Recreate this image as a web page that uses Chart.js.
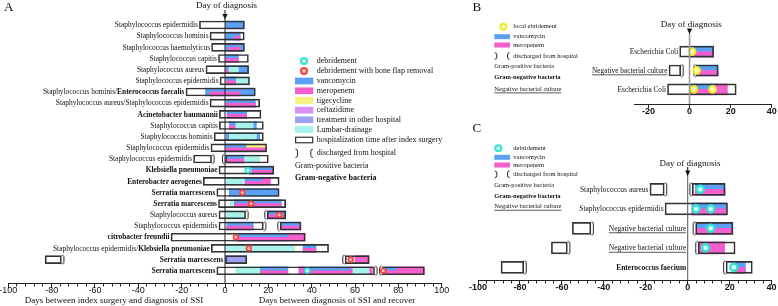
<!DOCTYPE html>
<html>
<head>
<meta charset="utf-8">
<script src="https://cdn.jsdelivr.net/npm/chart.js@4.4.1/dist/chart.umd.min.js"></script>
<style>
  html, body { margin:0; padding:0; background:#ffffff; }
  #wrap { position:relative; width:778px; height:306px; overflow:hidden; background:#ffffff; }
  #wrap canvas { position:absolute; left:0; top:0; }
</style>
</head>
<body>
<div id="wrap">
  <canvas id="chartA" width="778" height="306"></canvas>
  <canvas id="chartB" width="778" height="306"></canvas>
  <canvas id="chartC" width="778" height="306"></canvas>
</div>
<script>
// ================= DATA: panel A =================
const organismsA = [
  'Staphylococcus epidermidis', 'Staphylococcus hominis', 'Staphylococcus haemolyticus',
  'Staphylococcus capitis', 'Staphylococcus aureus', 'Staphylococcus epidermidis',
  'Staphylococcus hominis/Enterococcus faecalis', 'Staphylococcus aureus/Staphylococcus epidermidis',
  'Acinetobacter baumannii', 'Staphylococcus capitis', 'Staphylococcus hominis',
  'Staphylococcus epidermidis', 'Staphylococcus epidermidis', 'Klebsiella pneumoniae',
  'Enterobacter aerogenes', 'Serratia marcescens', 'Serratia marcescens', 'Staphylococcus aureus',
  'Staphylococcus epidermidis', 'citrobacter freundii',
  'Staphylococcus epidermidis/Klebsiella pneumoniae', 'Serratia marcescens', 'Serratia marcescens'
];
const gramA = ['+','+','+','+','+','+','+/-','+','-','+','+','+','+','-','-','-','-','+','+','-','+/-','-','-'];
const stayA = [
  [[-11.8, 8.9]], [[-6.9, 8.9]], [[-6.2, 9]], [[-3, 10.8]], [[-8.8, 10.9]], [[-2.3, 11.3]],
  [[-18, 14]], [[-6.9, 16]], [[-2.6, 16.6]], [[-2.6, 17.7]], [[-5, 17.7]], [[-6.5, 19.2]],
  [[-14.5, -6.2], [0, 20]], [[-2.8, 22.5]], [[-10, 25]], [[-3.8, 25]], [[-3, 28]],
  [[-2.8, 9.5], [19.5, 28]], [[-2.8, 17.7], [25.5, 35]], [[-24.9, 37]], [[-6.3, 47.8]],
  [[-83, -75.5], [0, 10], [55.5, 66.5]], [[-3.8, 69], [72.5, 92]]
];
const vancomycinA = [
  [[0, 8.9]], [[0.3, 7]], [[0.3, 8.5]], [[0.3, 6.2]], [[0.3, 10.6]], [[0.5, 5.2]],
  [[-9, 13.5]], [[0.5, 14]], [[1, 10]], [[2, 14.5]], [[0.5, 16]], [[0.3, 10]],
  [[0.5, 9]], [[11.5, 22.3]], [[9, 17.5]], [[2, 24.5]], [[4, 26]], [[20, 28]],
  [[0.8, 13], [26, 35]], [[5, 29]], [[36, 42]], [], [[16, 29], [36, 58], [73, 79.5]]
];
const meropenemA = [
  [], [[4.3, 7]], [[1.8, 7]], [[0.3, 6.2]], [[0.3, 1.8]], [[0.5, 5.2]],
  [[-7, 7]], [[0.5, 14]], [[1, 10]], [[2, 5]], [], [[0.3, 19]],
  [[0.5, 9]], [[11.5, 22.3]], [[9, 21]], [], [[4, 26]], [[20, 28]],
  [[0.8, 13], [26, 35]], [[5, 37]], [[36, 42]], [[60, 66.5]], [[16, 29], [34, 68], [73, 92]]
];
const tigecyclineA = [[],[],[],[],[],[],[],[],[],[],[],[[10, 19]],[],[],[],[],[],[],[],[],[],[],[]];
const ceftazidimeA = [[],[],[],[],[],[],[],[],[],[],[],[],[],[],[],[],[],[],[],[],[],[],[]];
const otherHospitalA = [[],[],[],[],[],[],[],[],[],[],[],[],[],[],[],[],[],[],[],[],[],[[0, 10]],[]];
const lumbarDrainageA = [
  [], [], [], [], [[1.8, 6.2]], [[5.2, 11.3]], [], [], [], [[5, 13]], [[2, 14.5]], [],
  [[9, 16]], [[9.5, 12]], [[0.5, 9]], [], [[2.5, 4]], [[0.5, 8.5]], [], [], [[0, 32.3]], [],
  [[5, 16], [59, 66.5]]
];
const debridementA = [[],[],[],[],[],[],[],[],[],[],[],[],[],[10.5],[],[],[],[],[],[],[],[],[38]];
const boneFlapRemovalA = [[],[],[],[],[],[],[],[],[],[],[],[],[],[],[],[8],[12],[25],[],[5],[11],[58],[73]];
const dischargedA = [[],[],[],[],[],[],[],[],[],[],[],[],[-6.2],[],[],[],[],[9.5],[17.7],[],[],[-75.5],[69]];
const readmittedA = [[],[],[],[],[],[],[],[],[],[],[],[],[0],[],[],[],[],[19.5],[25.5],[],[],[55.5],[72.5]];
const tickLabelsA = [-100, -80, -60, -40, -20, 0, 20, 40, 60, 80, 100];

// ================= DATA: panel B =================
const organismsB = ['Escherichia Coli', 'Negative bacterial culture', 'Escherichia Coli'];
const gramB = ['-', 'n', '-'];
const stayB = [[[-4.8, 11.7]], [[-10, -4.3], [3.3, 13.9]], [[-10.7, 22.7]]];
const vancomycinB = [[[0, 11.7]], [[3.5, 13.9]], [[0, 13]]];
const meropenemB = [[[0, 11.7]], [[3.5, 13.9]], [[0, 18.4]]];
const localDebridementB = [[1.2], [3.5], [2.1, 11.2]];
const dischargedB = [[], [-4.3], []];
const readmittedB = [[], [3.3], []];
const tickLabelsB = [-20, 0, 20, 40];

// ================= DATA: panel C =================
const organismsC = ['Staphylococcus aureus', 'Staphylococcus epidermidis', 'Negative bacterial culture',
                    'Negative bacterial culture', 'Enterococcus faecium'];
const gramC = ['+', '+', 'n', 'n', '-'];
const stayC = [[[-18, -11.2], [2.2, 17.8]], [[-10.8, 19]], [[-55, -46.2], [3.8, 21.5]],
               [[-65, -57.4], [5, 22.6]], [[-89, -78.2], [18.3, 30.8]]];
const vancomycinC = [[[3.6, 17.8]], [[2, 18.4]], [[4, 21.5]], [], [[21.3, 27.5]]];
const meropenemC = [[[3.6, 17.8]], [[2, 18.4]], [[4, 21.5]], [[5.2, 17.6]], [[21.3, 27.5]]];
const debridementC = [[6], [4, 11], [11], [8.5], [22]];
const dischargedC = [[-11.2], [], [-46.2], [-57.4], [-78.2]];
const readmittedC = [[2.2], [], [3.8], [5], [18.3]];
const tickLabelsC = [-100, -80, -60, -40, -20, 0, 20, 40];

// ================= STYLE =================
const SERIF = '"Liberation Serif", "Times New Roman", serif';
const SANS = '"Liberation Sans", Arial, sans-serif';
const COLORS = {
  vancomycin: '#5ba0f4', meropenem: '#f45fcd', tigecycline: '#f6f27e', ceftazidime: '#d78ff4',
  otherHospital: '#9c9ff2', lumbar: '#a7f2ea',
  debr: '#33e2d2', debrFill: '#d2faf4', flap: '#f2443c', flapFill: '#f9b6b2',
  local: '#f1ec2a', localFill: '#fbf8c6', box: '#333333'
};

// ================= HELPERS =================
function toBars(perRow) {
  const out = [];
  perRow.forEach((ivs, r) => (ivs || []).forEach(iv => out.push({ x: [iv[0], iv[1]], y: r })));
  return out;
}
function toMarks(perRow) {
  const out = [];
  perRow.forEach((vs, r) => (vs || []).forEach(v => out.push({ x: v, y: r })));
  return out;
}
function splitByCover(list, coverLists) {
  const cover = [].concat(...coverLists);
  const overlap = [], alone = [];
  (list || []).forEach(([a, b]) => {
    const pts = [a, b];
    cover.forEach(([c, d]) => { if (c > a && c < b) pts.push(c); if (d > a && d < b) pts.push(d); });
    pts.sort((p, q) => p - q);
    for (let i = 0; i < pts.length - 1; i++) {
      const s = pts[i], e = pts[i + 1];
      if (e - s <= 1e-9) continue;
      const mid = (s + e) / 2;
      const target = cover.some(([c, d]) => mid > c && mid < d) ? overlap : alone;
      const last = target[target.length - 1];
      if (last && Math.abs(last[1] - s) < 1e-9) last[1] = e; else target.push([s, e]);
    }
  });
  return { overlap, alone };
}
function drawBracket(ctx, x, yc, h, dir, color, lw) {
  const t = yc - h / 2, b = yc + h / 2, hk = 2 * dir;
  ctx.save();
  ctx.strokeStyle = color; ctx.lineWidth = lw;
  ctx.beginPath();
  ctx.moveTo(x - hk, t); ctx.quadraticCurveTo(x, t, x, t + 2);
  ctx.lineTo(x, b - 2); ctx.quadraticCurveTo(x, b, x - hk, b);
  ctx.stroke();
  ctx.restore();
}
function bracketImage(h, dir) {
  const c = document.createElement('canvas');
  c.width = 10; c.height = Math.ceil(h + 2);
  drawBracket(c.getContext('2d'), 5 + 2.5 * dir, c.height / 2, h, dir, '#2a2a2a', 1);
  return c;
}
function ring(ctx, x, y, r, w, color, fill) {
  ctx.save();
  ctx.beginPath(); ctx.arc(x, y, r, 0, Math.PI * 2);
  ctx.fillStyle = fill; ctx.fill();
  ctx.lineWidth = w; ctx.strokeStyle = color; ctx.stroke();
  ctx.restore();
}
function text(ctx, s, x, y, font, align, underline) {
  ctx.save();
  ctx.font = font; ctx.fillStyle = '#111'; ctx.textAlign = align || 'left'; ctx.textBaseline = 'middle';
  ctx.fillText(s, x, y);
  if (underline) {
    const w = ctx.measureText(s).width;
    const x0 = align === 'right' ? x - w : (align === 'center' ? x - w / 2 : x);
    const size = parseFloat(font.match(/([\d.]+)px/)[1]);
    ctx.strokeStyle = '#111'; ctx.lineWidth = 0.7;
    ctx.beginPath(); ctx.moveTo(x0, y + size * 0.55); ctx.lineTo(x0 + w, y + size * 0.55); ctx.stroke();
  }
  ctx.restore();
}
function drawLegend(ctx, L) {
  L.items.forEach(it => {
    const y = it.y;
    if (it.k === 'ring') ring(ctx, L.ringX, y, L.ringR, L.ringW, COLORS[it.c], COLORS[it.c + 'Fill']);
    else if (it.k === 'rect') { ctx.fillStyle = COLORS[it.c]; ctx.fillRect(L.x, y - L.h / 2, L.w, L.h); }
    else if (it.k === 'box') {
      ctx.fillStyle = '#fff'; ctx.fillRect(L.x, y - L.h / 2, L.w, L.h);
      ctx.strokeStyle = '#333'; ctx.lineWidth = 1.2; ctx.strokeRect(L.x + 0.6, y - L.h / 2 + 0.6, L.w - 1.2, L.h - 1.2);
    } else if (it.k === 'brk') {
      drawBracket(ctx, L.x + 2.5, y, L.h + 1.5, 1, '#222', 1);
      drawBracket(ctx, L.x + L.w - 2.5, y, L.h + 1.5, -1, '#222', 1);
    }
    const plainText = (it.k === 'g+' || it.k === 'g-' || it.k === 'neg');
    const font = (it.k === 'g-' ? 'bold ' : '') + L.font + 'px ' + SERIF;
    text(ctx, it.t, plainText ? L.x : L.tx, y, font, 'left', it.k === 'neg');
  });
}
function drawDiag(ctx, chart, D) {
  const x0 = chart.scales.x.getPixelForValue(0);
  const bottom = chart.chartArea.bottom;
  ctx.save();
  ctx.strokeStyle = D.lineColor; ctx.lineWidth = D.lineWidth;
  ctx.beginPath(); ctx.moveTo(x0, D.lineTop); ctx.lineTo(x0, bottom); ctx.stroke();
  ctx.strokeStyle = '#111'; ctx.lineWidth = 1;
  ctx.beginPath(); ctx.moveTo(x0, D.arrowTop); ctx.lineTo(x0, D.tip - 3); ctx.stroke();
  ctx.fillStyle = '#111';
  ctx.beginPath(); ctx.moveTo(x0 - 2.6, D.tip - 5.5); ctx.lineTo(x0 + 2.6, D.tip - 5.5); ctx.lineTo(x0, D.tip); ctx.closePath(); ctx.fill();
  ctx.restore();
  text(ctx, 'Day of diagnosis', x0 + D.dx, D.textY, D.font + 'px ' + SERIF, 'center');
}
function drawRowLabels(ctx, chart, P) {
  const xs = chart.scales.x, ys = chart.scales.y;
  P.labels.forEach((name, r) => {
    const starts = (P.stay[r] || []).map(iv => iv[0]).filter(v => v >= -30);
    const anchor = Math.min(0, ...starts);
    let x = xs.getPixelForValue(anchor) - P.labelGap;
    const y = ys.getPixelForValue(r) + 0.3;
    const kind = P.gram[r];
    let parts;
    if (kind === '+/-') {
      const k = name.indexOf('/') + 1;
      parts = [[name.slice(0, k), '+'], [name.slice(k), '-']];
    } else parts = [[name, kind]];
    for (let i = parts.length - 1; i >= 0; i--) {
      const [s, k] = parts[i];
      const bold = (k === '-' && P.boldNegative) || (k === 'n' && P.boldNeg2);
      const font = (bold ? 'bold ' : '') + P.labelSize + 'px ' + SERIF;
      text(ctx, s, x, y, font, 'right', k === 'n');
      ctx.save(); ctx.font = font; x -= ctx.measureText(s).width; ctx.restore();
    }
  });
}

// ================= PANEL BUILDER =================
function makePanel(canvasId, P) {
  const g = P.geom;
  const rowPx = (g.bottom - g.top) / (g.ymax - g.ymin);
  const shift = (g.bar / 4) / rowPx;
  const bar = (o) => Object.assign({ type: 'bar', grouped: false, barThickness: g.bar, borderWidth: 0,
    borderSkipped: false, xAxisID: 'x', yAxisID: 'y', clip: false }, o);
  const ds = [];
  ds.push(bar({ label: 'hospitalization', data: toBars(P.stay), backgroundColor: '#ffffff', order: 40 }));
  P.drugs.forEach((d, i) => ds.push(bar({ label: d.label, data: toBars(d.values), backgroundColor: d.color, order: 30 - i })));
  const alone = [], combined = [];
  P.meropenem.forEach((ivs, r) => {
    const s = splitByCover(ivs, P.drugs.map(d => d.values[r] || []));
    alone.push(s.alone); combined.push(s.overlap);
  });
  ds.push(bar({ label: 'meropenem', data: toBars(alone), backgroundColor: COLORS.meropenem, order: 20 }));
  ds.push(bar({ label: 'meropenem (with other drug)', data: toBars(combined), backgroundColor: COLORS.meropenem,
    barThickness: g.bar / 2, yAxisID: 'yb', order: 19 }));
  if (P.lumbar) ds.push(bar({ label: 'Lumbar-drainage', data: toBars(P.lumbar), backgroundColor: COLORS.lumbar, order: 15 }));
  if (P.other) ds.push(bar({ label: 'treatment in other hospital', data: toBars(P.other), backgroundColor: COLORS.otherHospital, order: 14 }));
  ds.push(bar({ label: 'hospitalization outline', data: toBars(P.stay), backgroundColor: 'rgba(0,0,0,0)',
    borderColor: COLORS.box, borderWidth: 1, order: 10 }));
  const pt = (o) => Object.assign({ type: 'line', showLine: false, xAxisID: 'x', yAxisID: 'y', clip: false,
    pointRadius: 3, order: 5 }, o);
  ds.push(pt({ label: 'discharged', data: toMarks(P.discharged), pointStyle: bracketImage(g.bar + 1, 1) }));
  ds.push(pt({ label: 'readmitted', data: toMarks(P.readmitted), pointStyle: bracketImage(g.bar + 1, -1) }));
  P.marks.forEach((m, i) => ds.push(pt({ label: m.label, data: toMarks(m.values), pointStyle: 'circle',
    pointRadius: m.r, pointBorderWidth: m.w, pointBorderColor: COLORS[m.c], pointBackgroundColor: COLORS[m.c + 'Fill'], order: 1 + i })));

  const decor = {
    id: 'decor' + canvasId,
    afterDatasetsDraw(chart) { drawDiag(chart.ctx, chart, P.diag); },
    afterDraw(chart) {
      const ctx = chart.ctx;
      drawRowLabels(ctx, chart, P);
      drawLegend(ctx, P.legend);
      P.texts.forEach(t => text(ctx, t.s, t.x, t.y, t.font, t.align || 'left'));
    }
  };

  return new Chart(document.getElementById(canvasId), {
    type: 'bar',
    data: { datasets: ds },
    plugins: [decor],
    options: {
      indexAxis: 'y', responsive: false, animation: false, events: [], devicePixelRatio: 1,
      layout: { padding: { left: g.left, right: 778 - g.right, top: g.top, bottom: 306 - g.bottom - g.axisH } },
      plugins: { legend: { display: false }, tooltip: { enabled: false }, title: { display: false } },
      scales: {
        x: {
          type: 'linear', position: 'bottom', min: g.xmin, max: g.xmax,
          afterFit: (s) => { s.height = g.axisH; s.paddingLeft = 0; s.paddingRight = 0; },
          border: { display: true, color: '#222', width: 1 },
          grid: { display: true, drawOnChartArea: false, drawTicks: true, tickLength: g.tickLen, tickColor: '#222', tickWidth: 1,
            tickBorderDash: (c) => (c.tick && P.tickLabels.includes(c.tick.value)) ? [] : [g.minorLen, 30] },
          ticks: { stepSize: g.step, autoSkip: false, maxRotation: 0, minRotation: 0, includeBounds: false, padding: g.tickPad,
            color: '#111', font: g.tickFont,
            callback: (v) => P.tickLabels.includes(v) ? String(v) : '' }
        },
        y: { type: 'linear', axis: 'y', display: false, reverse: true, min: g.ymin, max: g.ymax, offset: false },
        yb: { type: 'linear', axis: 'y', display: false, reverse: true, min: g.ymin - shift, max: g.ymax - shift, offset: false }
      }
    }
  });
}

// ================= PANELS =================
makePanel('chartA', {
  geom: { left: 8.3, right: 441.7, top: 13.83, bottom: 283, axisH: 23, xmin: -100, xmax: 100, ymin: -1, ymax: 23.1,
    bar: 8, step: 4, tickLen: 5, minorLen: 2.5, tickPad: -2.5, tickFont: { family: SANS, size: 9 } },
  labels: organismsA, gram: gramA, stay: stayA, tickLabels: tickLabelsA,
  labelSize: 7.4, labelGap: 1.5, boldNegative: true, boldNeg2: false,
  drugs: [
    { label: 'vancomycin', values: vancomycinA, color: COLORS.vancomycin },
    { label: 'tigecycline', values: tigecyclineA, color: COLORS.tigecycline },
    { label: 'ceftazidime', values: ceftazidimeA, color: COLORS.ceftazidime }
  ],
  meropenem: meropenemA, lumbar: lumbarDrainageA, other: otherHospitalA,
  discharged: dischargedA, readmitted: readmittedA,
  marks: [
    { label: 'debridement', values: debridementA, c: 'debr', r: 2.4, w: 1.6 },
    { label: 'debridement with bone flap removal', values: boneFlapRemovalA, c: 'flap', r: 2.4, w: 1.6 }
  ],
  diag: { lineTop: 18, lineColor: '#222', lineWidth: 1, arrowTop: 10, tip: 19.5, textY: 5.5, dx: 1.5, font: 9 },
  legend: { x: 295, w: 18.3, tx: 316.7, h: 6.7, font: 8, ringX: 304, ringR: 3, ringW: 2, items: [
    { k: 'ring', c: 'debr', t: 'debridement', y: 61 },
    { k: 'ring', c: 'flap', t: 'debridement with bone flap removal', y: 71 },
    { k: 'rect', c: 'vancomycin', t: 'vancomycin', y: 81 },
    { k: 'rect', c: 'meropenem', t: 'meropenem', y: 90.8 },
    { k: 'rect', c: 'tigecycline', t: 'tigecycline', y: 100.5 },
    { k: 'rect', c: 'ceftazidime', t: 'ceftazidime', y: 110.2 },
    { k: 'rect', c: 'otherHospital', t: 'treatment in other hospital', y: 119.8 },
    { k: 'rect', c: 'lumbar', t: 'Lumbar-drainage', y: 129.5 },
    { k: 'box', t: 'hospitalization time after index surgery', y: 140 },
    { k: 'brk', t: 'discharged from hospital', y: 153.3 },
    { k: 'g+', t: 'Gram-positive bacteria', y: 165.7 },
    { k: 'g-', t: 'Gram-negative bacteria', y: 178.3 }
  ] },
  texts: [
    { s: 'A', x: 4, y: 8, font: '13px ' + SERIF },
    { s: 'Days between index surgery and diagnosis of SSI', x: 114, y: 301, font: '9px ' + SERIF, align: 'center' },
    { s: 'Days between diagnosis of SSI and recover', x: 337, y: 301, font: '9px ' + SERIF, align: 'center' }
  ]
});

makePanel('chartB', {
  geom: { left: 634, right: 772.5, top: 35.7, bottom: 104, axisH: 16, xmin: -27, xmax: 40, ymin: -0.85, ymax: 2.78,
    bar: 11, step: 20, tickLen: 4, minorLen: 2, tickPad: -2, tickFont: { family: SANS, size: 9, weight: 'bold' } },
  labels: organismsB, gram: gramB, stay: stayB, tickLabels: tickLabelsB,
  labelSize: 7.3, labelGap: 1.5, boldNegative: false, boldNeg2: false,
  drugs: [{ label: 'vancomycin', values: vancomycinB, color: COLORS.vancomycin }],
  meropenem: meropenemB, discharged: dischargedB, readmitted: readmittedB,
  marks: [{ label: 'local ebridement', values: localDebridementB, c: 'local', r: 3.3, w: 2.2 }],
  diag: { lineTop: 33, lineColor: '#9a9a9a', lineWidth: 1.6, arrowTop: 29, tip: 34, textY: 25, dx: 1.7, font: 9 },
  legend: { x: 494.3, w: 15.7, tx: 513.3, h: 5, font: 6.5, ringX: 503.3, ringR: 3, ringW: 2, items: [
    { k: 'ring', c: 'local', t: 'local ebridement', y: 26.7 },
    { k: 'rect', c: 'vancomycin', t: 'vancomycin', y: 36.7 },
    { k: 'rect', c: 'meropenem', t: 'meropenem', y: 45 },
    { k: 'brk', t: 'discharged from hospital', y: 56 },
    { k: 'g+', t: 'Gram-positive bacteria', y: 66.7 },
    { k: 'g-', t: 'Gram-negative bacteria', y: 77.7 },
    { k: 'neg', t: 'Negative bacterial culture', y: 89.3 }
  ] },
  texts: [{ s: 'B', x: 472.5, y: 7.5, font: '13px ' + SERIF }]
});

makePanel('chartC', {
  geom: { left: 478, right: 772.5, top: 174.7, bottom: 280, axisH: 20, xmin: -100, xmax: 40, ymin: -0.75, ymax: 4.65,
    bar: 12, step: 4, tickLen: 5, minorLen: 2.5, tickPad: -2.5, tickFont: { family: SANS, size: 9, weight: 'bold' } },
  labels: organismsC, gram: gramC, stay: stayC, tickLabels: tickLabelsC,
  labelSize: 7.5, labelGap: 1.5, boldNegative: true, boldNeg2: false,
  drugs: [{ label: 'vancomycin', values: vancomycinC, color: COLORS.vancomycin }],
  meropenem: meropenemC, discharged: dischargedC, readmitted: readmittedC,
  marks: [{ label: 'debridement', values: debridementC, c: 'debr', r: 3.6, w: 2.4 }],
  diag: { lineTop: 175, lineColor: '#555', lineWidth: 1, arrowTop: 167, tip: 176, textY: 163.3, dx: 2.4, font: 9 },
  legend: { x: 494.3, w: 15.7, tx: 513.3, h: 5, font: 6.5, ringX: 498.3, ringR: 3, ringW: 2, items: [
    { k: 'ring', c: 'debr', t: 'debridement', y: 148.3 },
    { k: 'rect', c: 'vancomycin', t: 'vancomycin', y: 157.3 },
    { k: 'rect', c: 'meropenem', t: 'meropenem', y: 165 },
    { k: 'brk', t: 'discharged from hospital', y: 174.3 },
    { k: 'g+', t: 'Gram-positive bacteria', y: 185.7 },
    { k: 'g-', t: 'Gram-negative bacteria', y: 196 },
    { k: 'neg', t: 'Negative bacterial culture', y: 206.7 }
  ] },
  texts: [{ s: 'C', x: 472.5, y: 129, font: '13px ' + SERIF }]
});
</script>
</body>
</html>
